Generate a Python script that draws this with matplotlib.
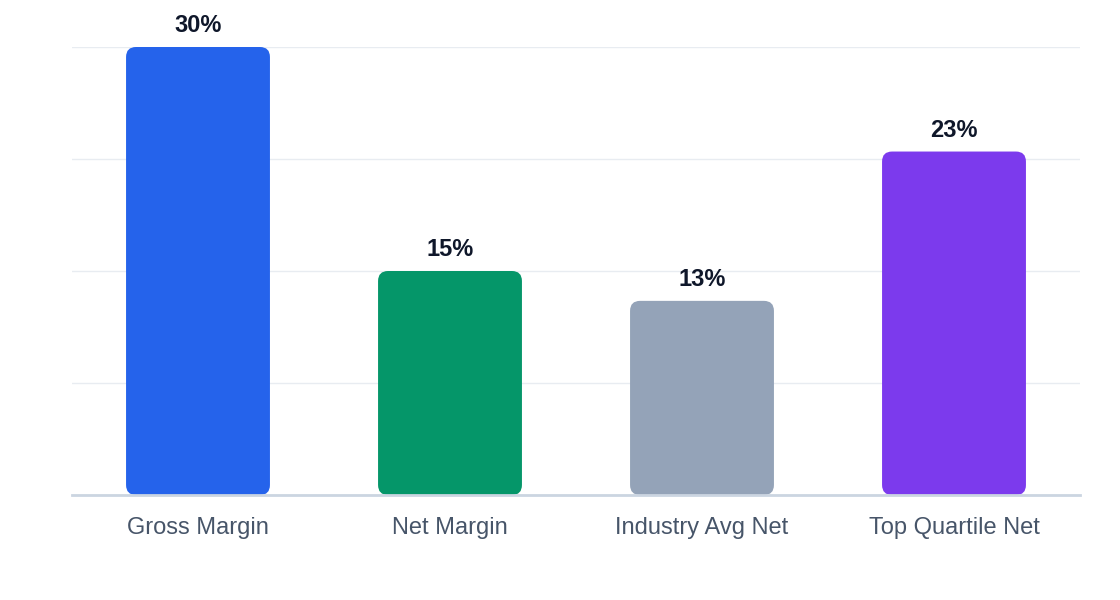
import matplotlib
matplotlib.use("Agg")
import matplotlib.pyplot as plt
from matplotlib.patches import FancyBboxPatch

plt.rcParams['font.family'] = ['Liberation Sans', 'DejaVu Sans']

categories = ['Gross Margin', 'Net Margin', 'Industry Avg Net', 'Top Quartile Net']
values = [30, 15, 13, 23]
labels = ['30%', '15%', '13%', '23%']
colors = ['#2563eb', '#059669', '#94a3b8', '#7c3aed']

fig = plt.figure(figsize=(11.2, 6), dpi=100)
ax = fig.add_axes([72/1120, 1 - 495/600, 1008/1120, 448/600])

x = list(range(len(categories)))
bars = ax.bar(x, values, width=0.571, color=colors, zorder=3)
ax.set_xlim(-0.5, len(categories) - 0.5)
ax.set_ylim(0, 30)

# swap plain bars for rounded ones (radius in pixels)
fig.canvas.draw()
px_x = ax.transData.transform((1, 0))[0] - ax.transData.transform((0, 0))[0]
px_y = ax.transData.transform((0, 1))[1] - ax.transData.transform((0, 0))[1]
rad = 10
for b in bars:
    b.set_visible(False)
    p = FancyBboxPatch((b.get_x(), b.get_y()), b.get_width(), b.get_height(),
                       boxstyle="round,pad=0,rounding_size=%f" % (rad / px_x),
                       mutation_aspect=px_x / px_y,
                       facecolor=b.get_facecolor(), edgecolor='none', zorder=3)
    ax.add_patch(p)

for xi, v, lab in zip(x, values, labels):
    ax.annotate(lab, (xi, v), xytext=(0, 7), textcoords='offset points',
                ha='center', va='bottom', fontsize=17, fontweight='bold', color='#0f172a')

ax.set_yticks([0, 7.5, 15, 22.5, 30])
ax.set_yticklabels([])
ax.tick_params(axis='y', length=0)
ax.grid(axis='y', color='#e8ecf1', linewidth=1, zorder=0)
ax.set_xticks(x)
ax.set_xticklabels(categories, fontsize=17, color='#475569')
ax.tick_params(axis='x', length=0, pad=16)

for s in ['top', 'right', 'left']:
    ax.spines[s].set_visible(False)
ax.spines['bottom'].set_color('#cbd5e1')
ax.spines['bottom'].set_linewidth(2)
ax.spines['bottom'].set_zorder(4)

fig.savefig('out.png', dpi=100)
